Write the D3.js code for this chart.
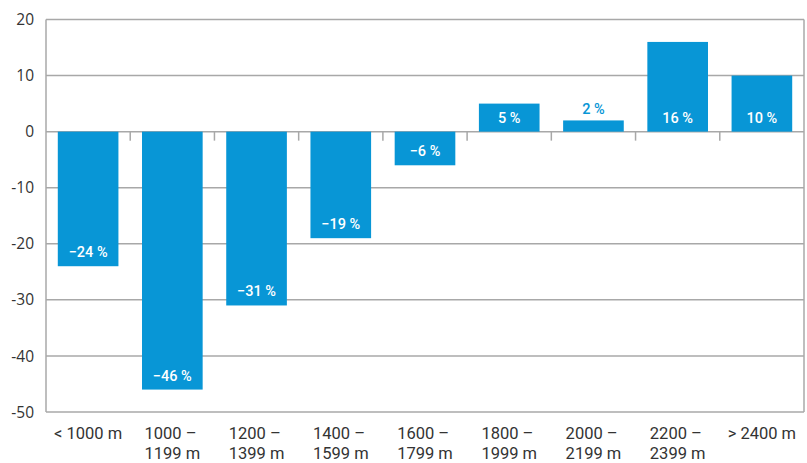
<!DOCTYPE html>
<html>
<head>
<meta charset="utf-8">
<script src="https://cdn.jsdelivr.net/npm/d3@7"></script>
<style>
  body { margin: 0; background: #fff; }
</style>
</head>
<body>
<svg id="chart" width="807" height="463"></svg>
<script>
// categorias e valores
const categorias = [
  ["< 1000 m"],
  ["1000 –", "1199 m"],
  ["1200 –", "1399 m"],
  ["1400 –", "1599 m"],
  ["1600 –", "1799 m"],
  ["1800 –", "1999 m"],
  ["2000 –", "2199 m"],
  ["2200 –", "2399 m"],
  ["> 2400 m"]
];
const valores = [-24, -46, -31, -19, -6, 5, 2, 16, 10];
const rotulos = ["−24 %", "−46 %", "−31 %", "−19 %", "−6 %", "5 %", "2 %", "16 %", "10 %"];
const ticksY = [20, 10, 0, -10, -20, -30, -40, -50];

const azul = "#0896d6", cinza = "#a8a8a8";

const svg = d3.select("#chart");
const margin = {top: 19.5, right: 3, bottom: 51, left: 46};
const width = 807 - margin.left - margin.right,
      height = 463 - margin.top - margin.bottom;

const g = svg.append("g")
    .attr("transform", "translate(" + margin.left + "," + margin.top + ")");

const x = d3.scaleBand()
    .domain(d3.range(categorias.length))
    .range([0, width])
    .paddingInner(0.28)
    .paddingOuter(0.14);

const y = d3.scaleLinear()
    .domain([-50, 20])
    .range([height, 0]);

// grade horizontal
g.selectAll("line.grade")
  .data(ticksY)
  .enter().append("line")
    .attr("class", "grade")
    .attr("x1", 0).attr("x2", width)
    .attr("y1", d => y(d)).attr("y2", d => y(d))
    .attr("stroke", cinza)
    .attr("stroke-width", 1.5);

// bordas verticais
g.append("line")
    .attr("x1", 0).attr("x2", 0)
    .attr("y1", 0).attr("y2", height)
    .attr("stroke", cinza).attr("stroke-width", 1.5);
g.append("line")
    .attr("x1", width).attr("x2", width)
    .attr("y1", 0).attr("y2", height)
    .attr("stroke", cinza).attr("stroke-width", 1.5);

// marcas entre categorias no zero
const passo = width / categorias.length;
g.selectAll("line.marca")
  .data(d3.range(1, categorias.length))
  .enter().append("line")
    .attr("class", "marca")
    .attr("x1", d => d * passo).attr("x2", d => d * passo)
    .attr("y1", y(0)).attr("y2", y(0) + 9)
    .attr("stroke", cinza).attr("stroke-width", 1.5);

// barras
g.selectAll("rect.barra")
  .data(valores)
  .enter().append("rect")
    .attr("class", "barra")
    .attr("x", (d, i) => x(i))
    .attr("width", x.bandwidth())
    .attr("y", d => y(Math.max(0, d)))
    .attr("height", d => Math.abs(y(d) - y(0)))
    .attr("fill", azul);

// rótulos das barras
g.selectAll("text.rotulo")
  .data(valores)
  .enter().append("text")
    .attr("class", "rotulo")
    .attr("x", (d, i) => x(i) + x.bandwidth() / 2)
    .attr("y", d => {
      if (d < 0) return y(d) - 9;
      if (y(0) - y(d) < 25) return y(d) - 6;
      return y(0) - 9;
    })
    .attr("text-anchor", "middle")
    .attr("font-family", "Roboto, sans-serif")
    .attr("font-weight", 500)
    .attr("font-size", 14.5)
    .attr("fill", d => (d > 0 && y(0) - y(d) < 25) ? azul : "#fff")
    .text((d, i) => rotulos[i]);

// rótulos do eixo y
g.selectAll("text.ticky")
  .data(ticksY)
  .enter().append("text")
    .attr("class", "ticky")
    .attr("x", -12)
    .attr("y", d => y(d))
    .attr("dy", "0.36em")
    .attr("text-anchor", "end")
    .attr("font-family", "'Open Sans', sans-serif")
    .attr("font-size", 15.5)
    .attr("fill", "#333")
    .text(d => d < 0 ? "-" + Math.abs(d) : d);

// rótulos das categorias
const cat = g.selectAll("g.cat")
  .data(categorias)
  .enter().append("g")
    .attr("class", "cat");

cat.each(function(linhas, i) {
  const grupo = d3.select(this);
  const t = grupo.append("text")
      .attr("font-family", "Roboto, sans-serif")
      .attr("font-size", 16.5)
      .attr("fill", "#333");
  linhas.forEach((l, k) => {
    t.append("tspan")
      .attr("x", 0)
      .attr("y", height + 26.5 + k * 20)
      .text(l);
  });
  const w = t.node().getBBox().width;
  let x0 = x(i) + x.bandwidth() / 2 - w / 2;
  if (x0 + w > width) x0 = width - w;
  grupo.attr("transform", "translate(" + x0 + ",0)");
});
</script>
</body>
</html>
